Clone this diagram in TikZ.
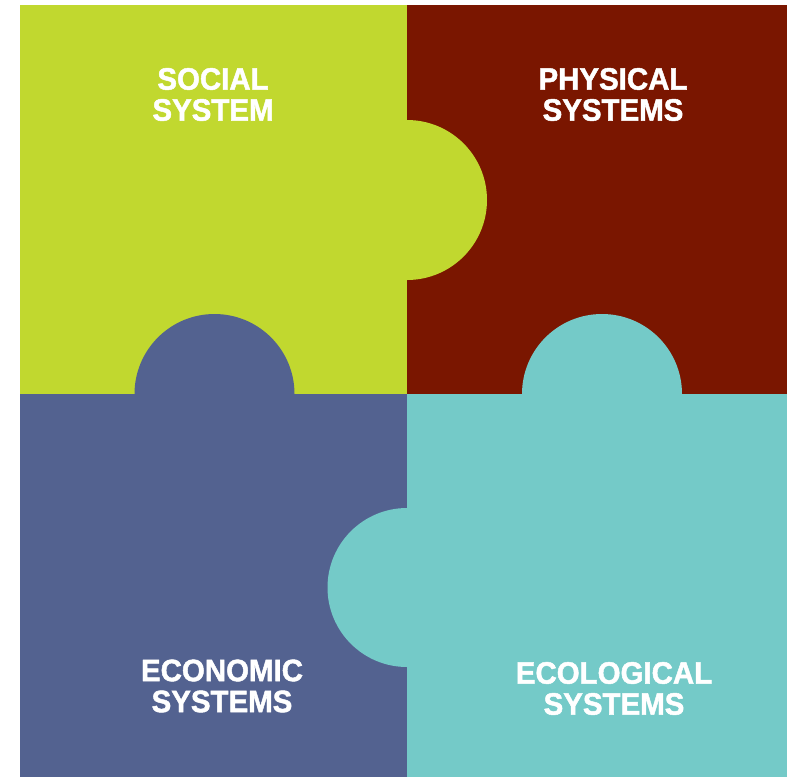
\documentclass[tikz,border=0pt]{standalone}
\usepackage{fontspec}
\setmainfont{Liberation Sans}
\newfontfamily\heavysans[BoldFont={* Bold}, BoldFeatures={FakeBold=1.6}]{Liberation Sans}
\definecolor{socialgreen}{RGB}{193,216,47}
\definecolor{physicalred}{RGB}{122,22,0}
\definecolor{economicblue}{RGB}{83,98,144}
\definecolor{ecoteal}{RGB}{116,202,200}

\begin{document}
\begin{tikzpicture}[x=1pt, y=-1pt,
    piece/.style={draw=none},
    title/.style={text=white, inner sep=0pt, align=center, xscale=0.95,
      font=\heavysans\bfseries\fontsize{31}{31}\selectfont}]
  \useasboundingbox (0,0) rectangle (787,777);

  % the four pieces
  \fill[piece, socialgreen]  (20,5)   rectangle (407,394);
  \fill[piece, physicalred]  (407,5)  rectangle (787,394);
  \fill[piece, economicblue] (20,394) rectangle (407,777);
  \fill[piece, ecoteal]      (407,394) rectangle (787,777);

  % knobs
  \fill[piece, socialgreen]  (407,200)   circle (80);
  \fill[piece, economicblue] (214.5,394) circle (80);
  \fill[piece, ecoteal]      (602,394)   circle (80);
  \fill[piece, ecoteal]      (407,587.5) circle (79.5);

  % labels
  \node[title] (social)   at (213,94.5)  {SOCIAL\\SYSTEM};
  \node[title] (physical) at (613,94.5)  {PHYSICAL\\SYSTEMS};
  \node[title] (economic) at (222,686)   {ECONOMIC\\SYSTEMS};
  \node[title] (ecologic) at (614,688.5) {ECOLOGICAL\\SYSTEMS};
\end{tikzpicture}
\end{document}
